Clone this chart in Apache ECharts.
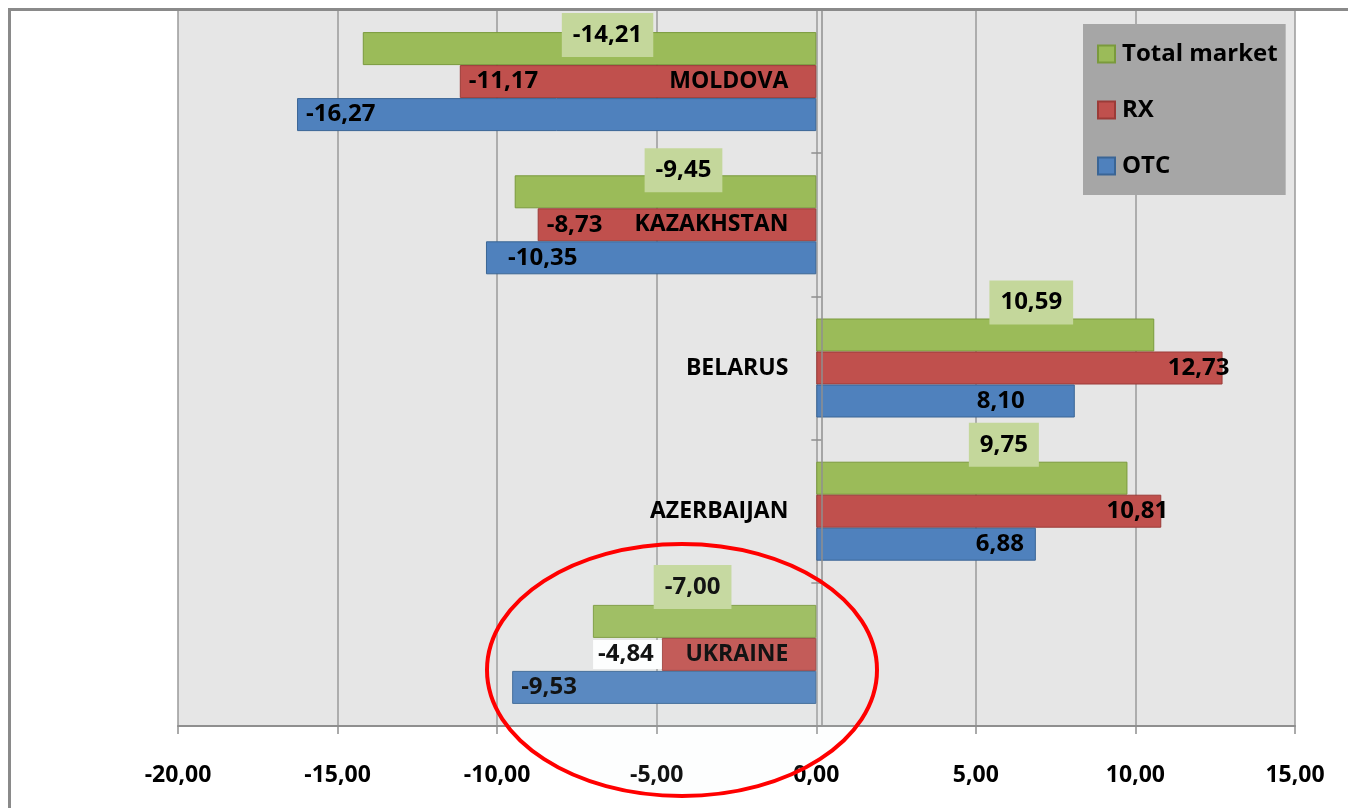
<!DOCTYPE html>
<html>
<head>
<meta charset="utf-8">
<title>Market dynamics by country</title>
<script src="https://cdn.jsdelivr.net/npm/echarts@6/dist/echarts.min.js"></script>
<style>
  html, body { margin: 0; padding: 0; background: #fff; }
  #main { width: 1348px; height: 808px; }
</style>
</head>
<body>
<div id="main"></div>
<script>
// data
var countries = ['MOLDOVA', 'KAZAKHSTAN', 'BELARUS', 'AZERBAIJAN', 'UKRAINE'];
var seriesNames = ['Total market', 'RX', 'OTC'];
var totalMarket = [-14.21, -9.45, 10.59, 9.75, -7.00];
var rx = [-11.17, -8.73, 12.73, 10.81, -4.84];
var otc = [-16.27, -10.35, 8.10, 6.88, -9.53];

// label placement tweaks (excel put them a bit off-centre)
var totalLabelShift = [18, 18, 46, 32, -12];
var totalLabelDrop = [-25, -17, -6, -5, -4];

var FONT = 'Open Sans';

function fmt(v) {
    return v.toFixed(2).replace('.', ',');
}

var totalData = totalMarket.map(function (v, i) {
    return { value: v, label: { distance: totalLabelDrop[i], offset: [totalLabelShift[i], 0] } };
});

// RX labels: inside the bar end, the ukraine one is outside on a white box
var rxData = rx.map(function (v, i) {
    var lab = v >= 0 ? { position: 'insideRight', distance: -7 } : { position: 'insideLeft', distance: 9 };
    if (i === 4) {
        lab = { position: 'left', distance: 0, backgroundColor: '#ffffff', padding: [3, 8, 2, 5] };
    }
    return { value: v, label: lab };
});

var otcData = otc.map(function (v, i) {
    var lab = v >= 0 ? { position: 'insideRight', distance: 12 } : { position: 'insideLeft', distance: 9 };
    if (i === 1) lab.distance = 22;
    if (i === 2) lab.distance = 50;
    return { value: v, label: lab };
});

var labelText = { color: '#000', fontFamily: FONT, fontWeight: 'bold', fontSize: 24 };

var myChart = echarts.init(document.getElementById('main'));

var option = {
    animation: false,
    textStyle: { fontFamily: FONT },
    grid: {
        left: 178,
        right: 53,
        top: 10,
        bottom: 82,
        show: true,
        backgroundColor: '#e6e6e6',
        borderWidth: 0
    },
    legend: {
        data: seriesNames,
        orient: 'vertical',
        left: 1083,
        top: 24,
        padding: [18, 8, 17, 14],
        itemGap: 32,
        itemWidth: 17,
        itemHeight: 17,
        icon: 'rect',
        backgroundColor: '#a6a6a6',
        textStyle: { color: '#000', fontFamily: FONT, fontWeight: 'bold', fontSize: 24, padding: [0, 0, 0, 2] }
    },
    xAxis: {
        type: 'value',
        min: -20,
        max: 15,
        interval: 5,
        axisLine: { show: true, lineStyle: { color: '#8f8f8f', width: 2 } },
        axisTick: { show: true, length: 8, lineStyle: { color: '#8f8f8f', width: 1.5 } },
        splitLine: { show: true, lineStyle: { color: '#9a9a9a', width: 1.5 } },
        axisLabel: {
            margin: 38,
            color: '#000',
            fontFamily: FONT,
            fontWeight: 'bold',
            fontSize: 23,
            formatter: fmt
        }
    },
    yAxis: {
        type: 'category',
        data: countries,
        inverse: true,
        z: 5,
        offset: 0,
        axisLine: { show: true, onZero: false, lineStyle: { color: '#8f8f8f', width: 1.5 } },
        axisTick: { show: true, interval: 0, length: 10, lineStyle: { color: '#8f8f8f', width: 1.5 } },
        axisLabel: {
            interval: 0,
            margin: 33,
            color: '#000',
            fontFamily: FONT,
            fontWeight: 'bold',
            fontSize: 23
        }
    },
    series: [
        {
            name: seriesNames[0],
            type: 'bar',
            data: totalData,
            barWidth: 33,
            barGap: '0%',
            itemStyle: { color: '#9bbb59', borderColor: '#7a9a3c', borderWidth: 1 },
            label: Object.assign({
                show: true,
                position: 'top',
                backgroundColor: '#c4d79b',
                padding: [10, 11, 10, 11],
                formatter: function (p) { return fmt(p.value); }
            }, labelText)
        },
        {
            name: seriesNames[1],
            type: 'bar',
            data: rxData,
            barWidth: 33,
            barGap: '0%',
            itemStyle: { color: '#c0504d', borderColor: '#9b3b38', borderWidth: 1 },
            label: Object.assign({
                show: true,
                formatter: function (p) { return fmt(p.value); }
            }, labelText)
        },
        {
            name: seriesNames[2],
            type: 'bar',
            data: otcData,
            barWidth: 33,
            barGap: '0%',
            itemStyle: { color: '#4f81bd', borderColor: '#3a6595', borderWidth: 1 },
            label: Object.assign({
                show: true,
                formatter: function (p) { return fmt(p.value); }
            }, labelText)
        }
    ],
    graphic: [
        {
            // outer chart frame
            type: 'rect',
            z: 50,
            silent: true,
            shape: { x: 9.5, y: 9.5, width: 1400, height: 900 },
            style: { fill: 'none', stroke: '#8a8a8a', lineWidth: 3 }
        },
        {
            // red circle drawn around ukraine
            type: 'ellipse',
            z: 60,
            silent: true,
            shape: { cx: 682, cy: 670, rx: 195, ry: 126 },
            style: { fill: 'rgba(225,238,242,0.08)', stroke: '#ff0000', lineWidth: 4 }
        }
    ]
};

myChart.setOption(option);

// move the category axis (line, ticks, names) onto the zero line
var zeroX = myChart.convertToPixel({ xAxisIndex: 0 }, 0);
myChart.setOption({ yAxis: { offset: -(zeroX - 178) } });
</script>
</body>
</html>
